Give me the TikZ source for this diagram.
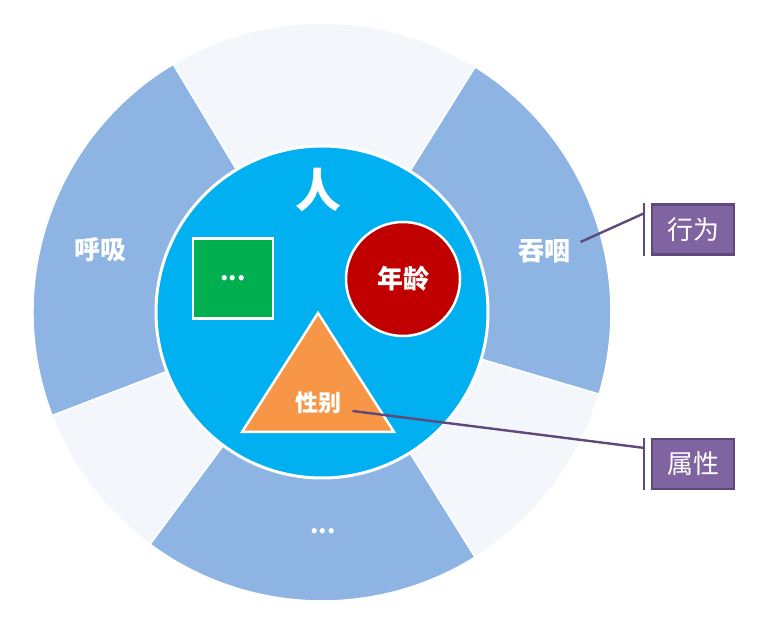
\documentclass[tikz,border=0pt]{standalone}
\usepackage{fontspec}
\newfontfamily\cjk{Noto Sans CJK SC}
\usetikzlibrary{positioning}

\definecolor{ringblue}{HTML}{8EB4E3}
\definecolor{ringlight}{HTML}{F3F7FB}
\definecolor{corecyan}{HTML}{00B0F0}
\definecolor{boxgreen}{HTML}{00B050}
\definecolor{agered}{HTML}{C00000}
\definecolor{sexorange}{HTML}{F79646}
\definecolor{tagpurple}{HTML}{8064A2}
\definecolor{tagedge}{HTML}{5F497A}

\begin{document}
\begin{tikzpicture}[
    x=1pt, y=1pt,
    sector/.style={draw=white, line width=1.5pt},
    figure/.style={draw=white, line width=2.5pt},
    ringtxt/.style={text=white, font=\cjk\bfseries\fontsize{26}{26}\selectfont},
    dots/.style={text=white, font=\cjk\bfseries\fontsize{24}{24}\selectfont},
    tag/.style={rectangle, draw=tagedge, fill=tagpurple, line width=2.2pt, minimum width=82pt, minimum height=50pt, text=white, font=\cjk\fontsize{26}{26}\selectfont},
    callline/.style={draw=tagedge, line width=2.4pt}
]
\useasboundingbox (0,0) rectangle (769,618);

% Outer ring
\begin{scope}[shift={(322,306)}]
\filldraw[sector, fill=ringlight] (58:289) arc (58:121:289) -- (121:166) arc (121:58:166) -- cycle;
\filldraw[sector, fill=ringblue] (121:289) arc (121:201:289) -- (201:166) arc (201:121:166) -- cycle;
\filldraw[sector, fill=ringlight] (201:289) arc (201:233.5:289) -- (233.5:166) arc (233.5:201:166) -- cycle;
\filldraw[sector, fill=ringblue] (233.5:289) arc (233.5:302:289) -- (302:166) arc (302:233.5:166) -- cycle;
\filldraw[sector, fill=ringlight] (302:289) arc (302:343.5:289) -- (343.5:166) arc (343.5:302:166) -- cycle;
\filldraw[sector, fill=ringblue] (343.5:289) arc (343.5:418:289) -- (418:166) arc (418:343.5:166) -- cycle;
\end{scope}

\node[ringtxt] (huxi) at (100,368) {呼吸};
\node[ringtxt] (tunyan) at (544,367) {吞咽};
\node[dots, anchor=base] (more) at (323,84) {...};

% Person
\node[circle, fill=corecyan, draw=white, line width=3pt, minimum size=332pt] (core) at (322,306) {};
\node[ringtxt, font=\cjk\bfseries\fontsize{46}{46}\selectfont] (ren) at (318,428) {人};

% Attributes
\node[figure, rectangle, fill=boxgreen, minimum size=80pt, dots] (other) at (233,339.5) {...};
\node[figure, circle, fill=agered, minimum size=114pt, ringtxt] (age) at (403,339) {年龄};
\filldraw[figure, fill=sexorange] (318,305) coordinate (apex) -- (242,186) coordinate (bl) -- (394,186) coordinate (br) -- cycle;
\node[ringtxt, font=\cjk\bfseries\fontsize{23}{23}\selectfont] (xingbie) at (318,215) {性别};

% Callouts
\node[tag] (xingwei) at (693,388.5) {行为};
\node[tag] (shuxing) at (693,154) {属性};
\draw[callline] ([xshift=-7pt]xingwei.north west) -- ([xshift=-7pt]xingwei.south west);
\draw[callline] ([xshift=-7pt]shuxing.north west) -- ([xshift=-7pt]shuxing.south west);
\draw[callline] ([shift={(7pt,9pt)}]tunyan.east) -- ([shift={(-7pt,-10pt)}]xingwei.north west);
\draw[callline] ([shift={(8pt,-8pt)}]xingbie.east) -- ([shift={(-7pt,-10pt)}]shuxing.north west);

\end{tikzpicture}
\end{document}
